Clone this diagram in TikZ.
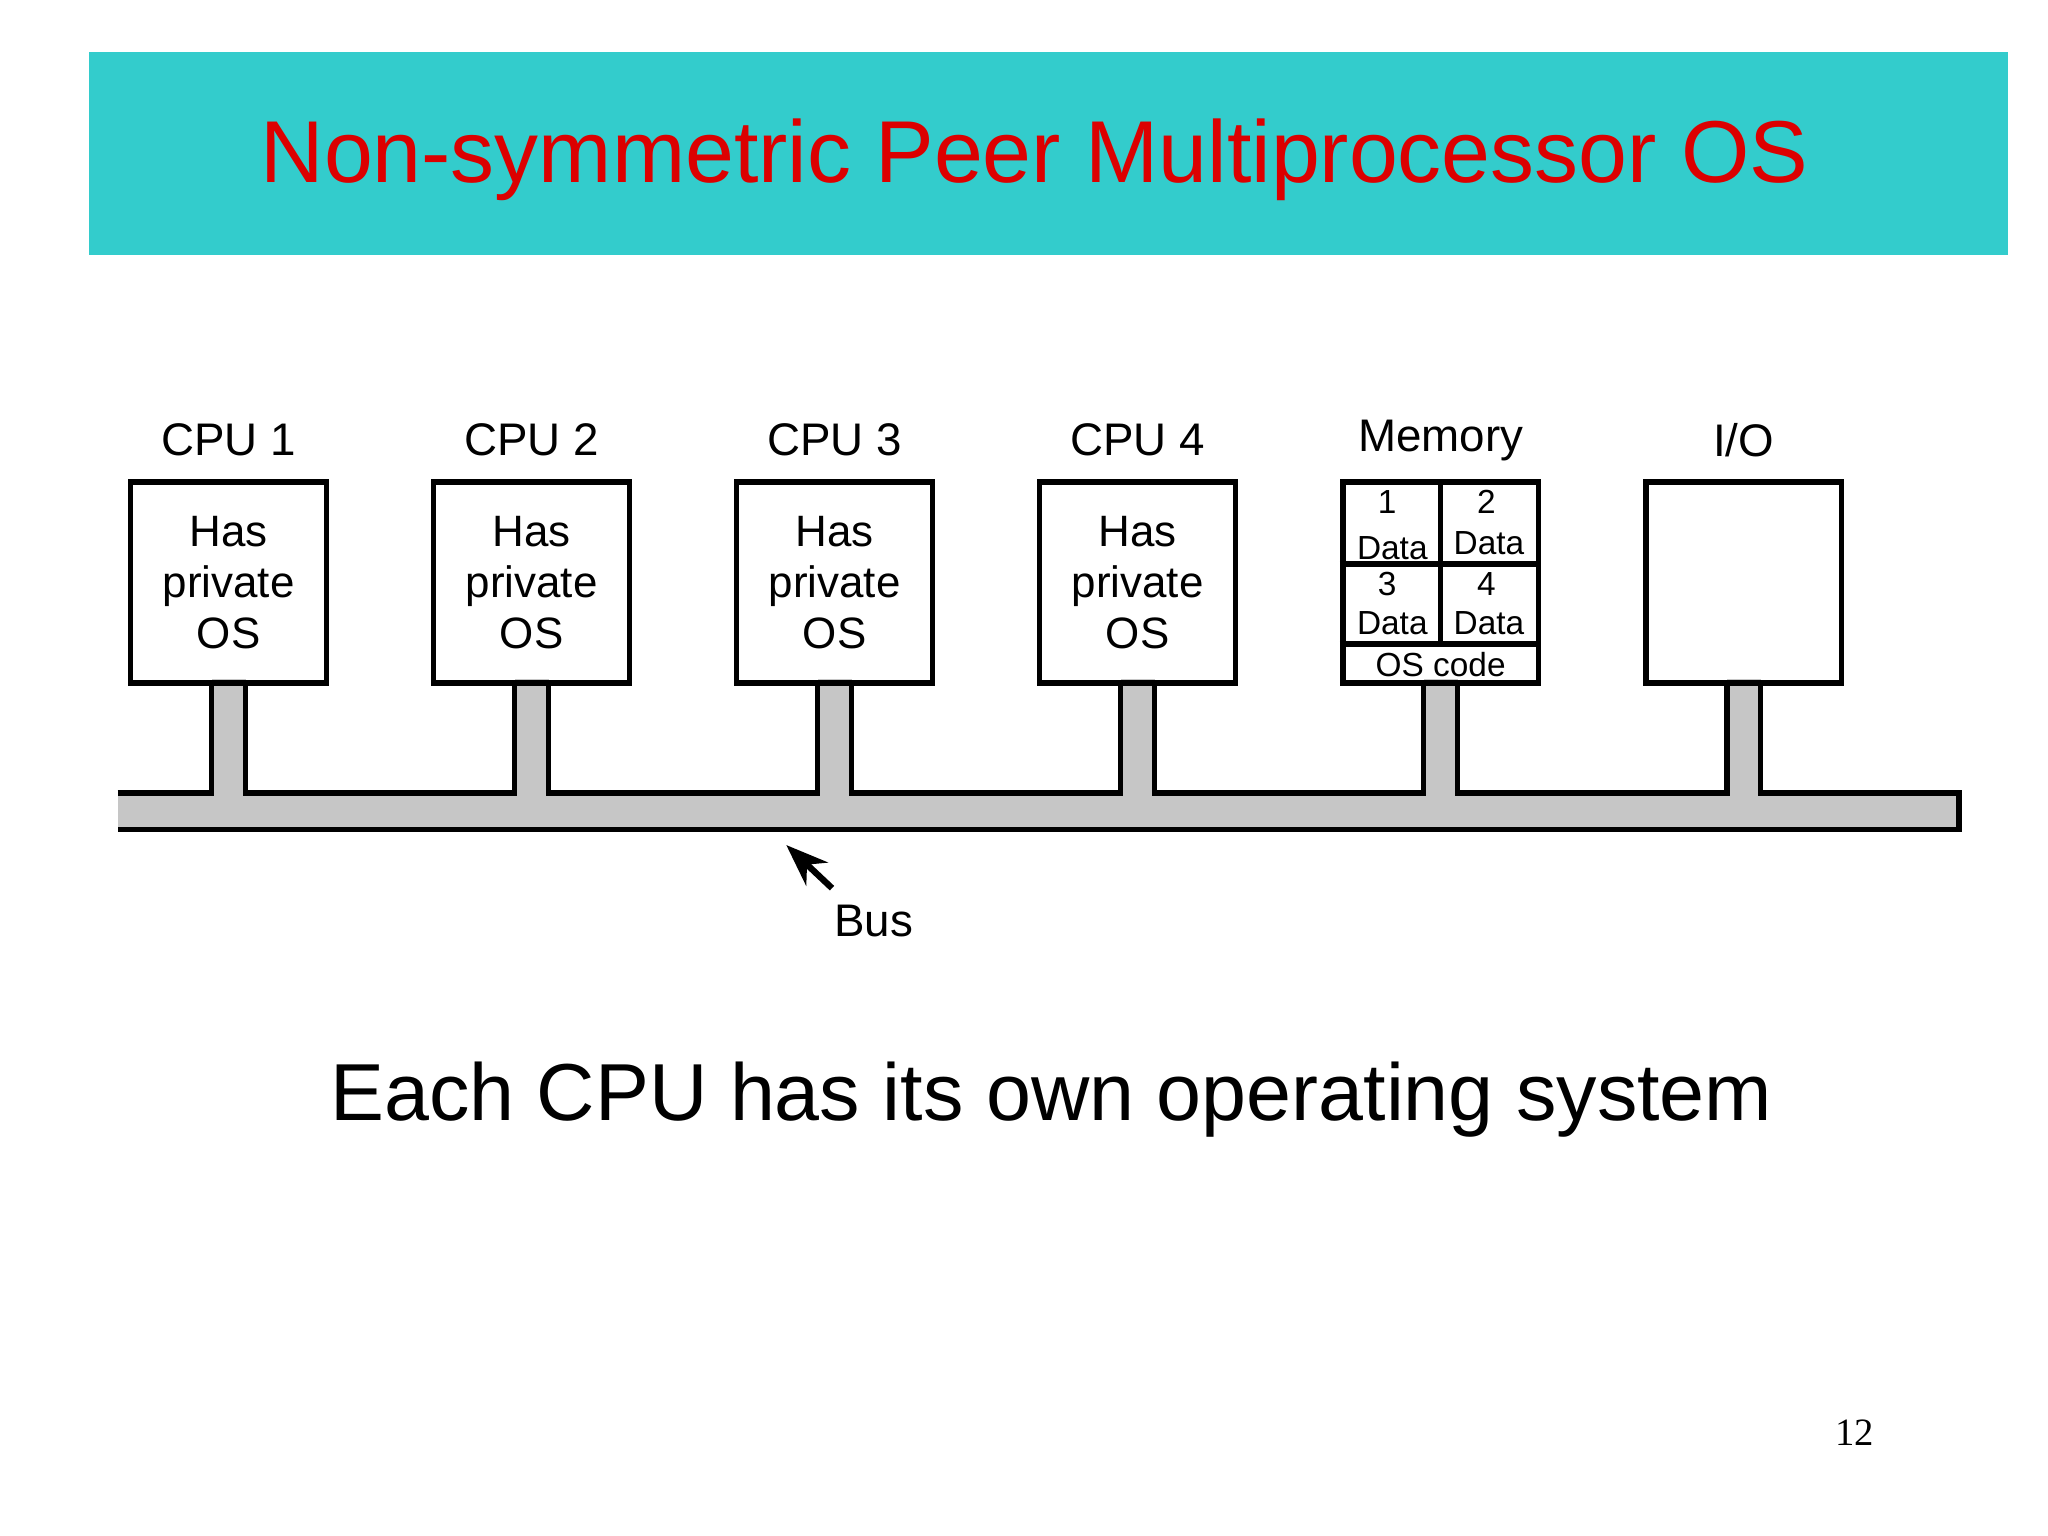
\documentclass[tikz,border=0pt]{standalone}
\usepackage{fontspec}
\usetikzlibrary{arrows.meta}
\setmainfont{Liberation Sans}
\newfontfamily\serifnum{Liberation Serif}
\begin{document}
\begin{tikzpicture}[x=0.01306cm,y=-0.01306cm,
  box/.style={draw,line width=1.6pt,minimum width=150*0.01306cm,minimum height=154*0.01306cm,inner sep=0pt,align=center,font=\fontsize{12.5}{14.5}\selectfont},
  lab/.style={font=\fontsize{13}{16}\selectfont},
  sm/.style={font=\fontsize{9.5}{11}\selectfont,inner sep=0pt}]
\useasboundingbox (0,0) rectangle (1568,1176);
\fill[fill={rgb,255:red,51;green,204;blue,204}] (68,40) rectangle (1537,195);
\node[text={rgb,255:red,220;green,0;blue,0},font=\fontsize{25}{30}\selectfont] (title) at (792,122) {Non-symmetric Peer Multiprocessor OS};
% bus
\fill[gray!45] (90,607) rectangle (1500,635);
\foreach \c in {175,407,639,871,1103,1335}{\fill[gray!45] (\c-13,520) rectangle (\c+13,608);}
\draw[line width=1.6pt] (90,607) -- (162,607) -- (162,523) (188,523) -- (188,607) -- (394,607) -- (394,523)
 (420,523) -- (420,607) -- (626,607) -- (626,523) (652,523) -- (652,607) -- (858,607) -- (858,523)
 (884,523) -- (884,607) -- (1090,607) -- (1090,523) (1116,523) -- (1116,607) -- (1322,607) -- (1322,523)
 (1348,523) -- (1348,607) -- (1500,607) -- (1500,635) -- (90,635);
\foreach \i/\c in {1/175,2/407,3/639,4/871}{
  \node[box] (cpu\i) at (\c,446) {Has\\private\\OS};
  \node[lab] (l\i) at (\c,337) {CPU \i};
}
\node[box] (mem) at (1103,446) {};
\node[lab] (lm) at (1103,337) {Memory};
\node[box] (io) at (1335,446) {};
\node[lab] (lio) at (1335,337) {I/O};
\draw[line width=1.6pt] (mem.north) -- (1103,493) (mem.west |- 0,432) -- (mem.east |- 0,432) (mem.west |- 0,493) -- (mem.east |- 0,493);
\node[sm] (m1) at (1062,384) {1};
\node[sm] (m1d) at (1066,420) {Data};
\node[sm] (m2) at (1138,384) {2};
\node[sm] (m2d) at (1140,416) {Data};
\node[sm] (m3) at (1062,447) {3};
\node[sm] (m3d) at (1066,477) {Data};
\node[sm] (m4) at (1138,447) {4};
\node[sm] (m4d) at (1140,477) {Data};
\node[sm] (os) at (1103,509) {OS code};
\coordinate (tip) at (602,647);
\node[lab] (bus) at (669,705) {Bus};
\draw[line width=1.8pt,-{Stealth[length=12pt,width=9pt]}] (637,680) -- (tip);
\node[font=\fontsize{23}{28}\selectfont] (sub) at (805,842) {Each CPU has its own operating system};
\node[font=\serifnum\fontsize{11}{12}\selectfont] (pg) at (1420,1097) {12};
\end{tikzpicture}
\end{document}
